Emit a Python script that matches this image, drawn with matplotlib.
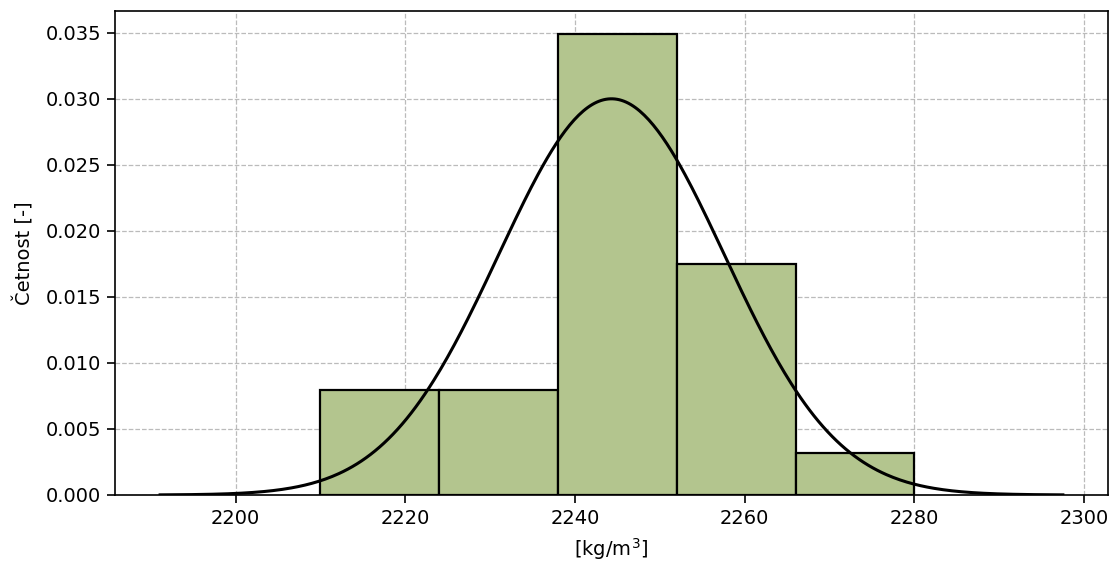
import numpy as np
import matplotlib
matplotlib.use("Agg")
import matplotlib.pyplot as plt

# Histogram bins (kg/m3) and normalised frequencies
bin_edges = [2210, 2224, 2238, 2252, 2266, 2280]
frequencies = [0.00794, 0.00794, 0.0349, 0.01746, 0.00317]

# Fitted normal distribution
mean_density = 2244.3
std_density = 13.3

fig, ax = plt.subplots(figsize=(11.13, 5.63), dpi=100)
ax.set_axisbelow(True)
ax.grid(True, linestyle="--", color="#bbbbbb", linewidth=0.9)

lefts = np.array(bin_edges[:-1])
widths = np.diff(bin_edges)
ax.bar(lefts, frequencies, width=widths, align="edge",
       color="#b3c58e", edgecolor="black", linewidth=1.6)

x = np.linspace(mean_density - 4 * std_density, mean_density + 4 * std_density, 400)
pdf = np.exp(-0.5 * ((x - mean_density) / std_density) ** 2) / (std_density * np.sqrt(2 * np.pi))
ax.plot(x, pdf, color="black", linewidth=2.2)

ax.set_xlabel("[kg/m$^3$]", fontsize=14, labelpad=6)
ax.set_ylabel("Četnost [-]", fontsize=14, labelpad=8)
ax.tick_params(labelsize=14, length=6, width=1.2, pad=4)
ax.set_xticks([2200, 2220, 2240, 2260, 2280, 2300])
ax.set_yticks(np.arange(0, 0.0351, 0.005))
ax.yaxis.set_major_formatter(matplotlib.ticker.FormatStrFormatter("%.3f"))
for s in ax.spines.values():
    s.set_linewidth(1.2)

fig.subplots_adjust(left=0.1033, right=0.9955, top=0.9805, bottom=0.1208)
fig.savefig("out.png", dpi=100)
